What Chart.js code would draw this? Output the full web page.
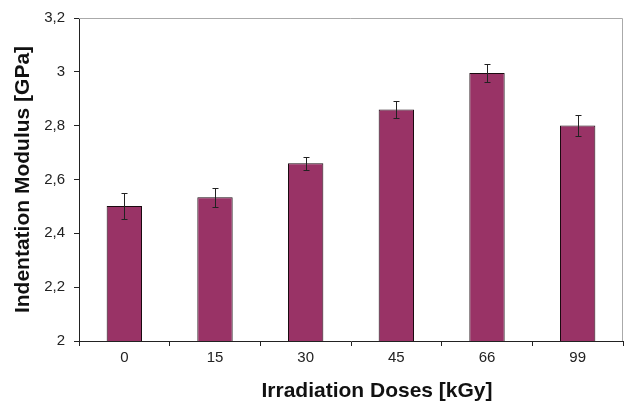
<!DOCTYPE html>
<html>
<head>
<meta charset="utf-8">
<script src="https://cdn.jsdelivr.net/npm/chart.js@4"></script>
<style>
  body { margin: 0; background: #fff; }
  #wrap { width: 624px; height: 402px; }
</style>
</head>
<body>
<div id="wrap"><canvas id="chart" width="624" height="402"></canvas></div>
<script>
const doses = ["0", "15", "30", "45", "66", "99"];
const modulus = [2.502, 2.534, 2.660, 2.860, 2.996, 2.801];
const errors = [0.047, 0.035, 0.023, 0.030, 0.032, 0.040];
const yTicks = [2, 2.2, 2.4, 2.6, 2.8, 3, 3.2];
const xTitle = "Irradiation Doses [kGy]";

// error bars, top/right frame and the x axis title (sits right of centre in the original)
const extras = {
  id: 'extras',
  afterDatasetsDraw(chart) {
    const ctx = chart.ctx;
    const y = chart.scales.y;
    const meta = chart.getDatasetMeta(0);
    ctx.save();
    ctx.strokeStyle = '#222';
    ctx.lineWidth = 1;
    meta.data.forEach((bar, i) => {
      const x = Math.round(bar.x) + 0.5;
      const hi = Math.round(y.getPixelForValue(modulus[i] + errors[i])) + 0.5;
      const lo = Math.round(y.getPixelForValue(modulus[i] - errors[i])) + 0.5;
      ctx.beginPath();
      ctx.moveTo(x, hi); ctx.lineTo(x, lo);
      ctx.moveTo(x - 3, hi); ctx.lineTo(x + 3, hi);
      ctx.moveTo(x - 3, lo); ctx.lineTo(x + 3, lo);
      ctx.stroke();
    });
    const a = chart.chartArea;
    ctx.strokeStyle = '#aaa';
    ctx.beginPath();
    ctx.moveTo(a.left, a.top + 0.5); ctx.lineTo(a.right - 0.5, a.top + 0.5);
    ctx.lineTo(a.right - 0.5, a.bottom);
    ctx.stroke();

    ctx.fillStyle = '#111';
    ctx.font = 'bold 21px "Liberation Sans", Arial';
    ctx.textAlign = 'center';
    ctx.textBaseline = 'alphabetic';
    ctx.fillText(xTitle, (a.left + a.right) / 2 + 26, chart.height - 5);
    ctx.restore();
  }
};

new Chart(document.getElementById('chart'), {
  type: 'bar',
  data: {
    labels: doses,
    datasets: [{
      data: modulus,
      backgroundColor: '#993366',
      borderColor: '#1a0a10',
      borderWidth: 1,
      categoryPercentage: 1,
      barPercentage: 0.39
    }]
  },
  options: {
    responsive: false,
    animation: false,
    layout: { padding: { left: 0, top: 16, right: 1, bottom: 0 } },
    plugins: { legend: { display: false }, tooltip: { enabled: false } },
    scales: {
      x: {
        offset: true,
        grid: { offset: true, drawOnChartArea: false, drawTicks: true, tickLength: 5, color: '#222' },
        border: { color: '#222', width: 1 },
        ticks: { color: '#222', font: { family: 'Liberation Sans, Arial', size: 15 }, padding: 3 },
        afterFit(scale) { scale.height = 61; }
      },
      y: {
        min: 2, max: 3.2,
        afterBuildTicks(scale) { scale.ticks = yTicks.map(v => ({ value: v })); },
        grid: { drawOnChartArea: false, drawTicks: true, tickLength: 5, color: '#222' },
        border: { color: '#222', width: 1 },
        ticks: {
          color: '#222', font: { family: 'Liberation Sans, Arial', size: 15 }, padding: 9,
          callback: v => String(v).replace('.', ',')
        },
        title: {
          display: true, text: 'Indentation Modulus [GPa]', color: '#111',
          font: { family: 'Liberation Sans, Arial', size: 21, weight: 'bold', lineHeight: 1 },
          padding: { top: 13, bottom: 4 }
        },
        afterFit(scale) { scale.width = 79; }
      }
    }
  },
  plugins: [extras]
});
</script>
</body>
</html>
